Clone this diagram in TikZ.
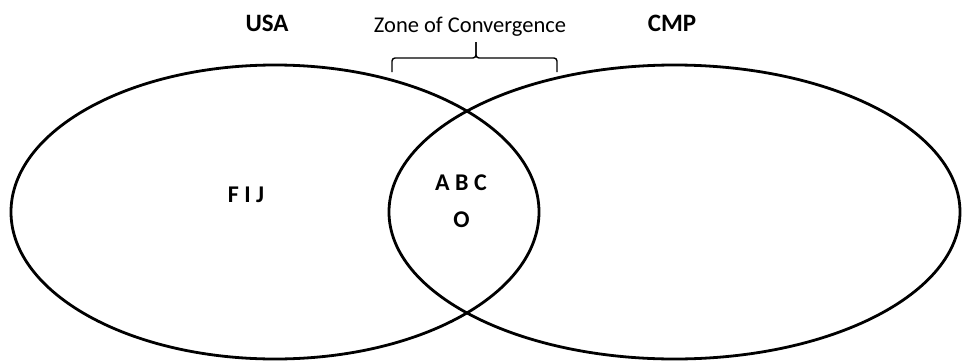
\documentclass[tikz,border=0pt]{standalone}
\usepackage{fontspec}
\setmainfont{Carlito}
\usetikzlibrary{shapes.geometric}
\begin{document}
\begin{tikzpicture}[x=1pt,y=-1pt,
  ring/.style={draw=black, line width=2.8pt, ellipse, inner sep=0pt},
  setlabel/.style={font=\fontsize{25}{30}\selectfont\bfseries, inner sep=0pt, anchor=center},
  member/.style={font=\fontsize{24}{29}\selectfont\bfseries, inner sep=0pt, anchor=center},
  zonelabel/.style={font=\fontsize{22.5}{27}\selectfont, inner sep=0pt, anchor=center},
  bracket/.style={draw=black, line width=1.4pt, rounded corners=3pt}]
\useasboundingbox (0,0) rectangle (962,362);
\node[ring, minimum width=528pt, minimum height=294pt] (usaset) at (275,212) {};
\node[ring, minimum width=571pt, minimum height=294pt] (cmpset) at (674.5,212) {};
\node[setlabel] (usa) at (267,23) {USA};
\node[setlabel] (cmp) at (672,23) {CMP};
\node[zonelabel] (zone) at (470,27) {Zone of Convergence};
\node[member] (fij) at (246,195) {F I J};
\node[member] (abc) at (461,183) {A B C};
\node[member] (o) at (461.5,220) {O};
\coordinate (btip) at (476,42);
\coordinate (bmid) at (476,58);
\coordinate (bl) at (392,72);
\coordinate (br) at (557,72);
\draw[bracket] (bl) |- (bmid) -- (btip);
\draw[bracket] (br) |- (bmid) -- (btip);
\end{tikzpicture}
\end{document}
